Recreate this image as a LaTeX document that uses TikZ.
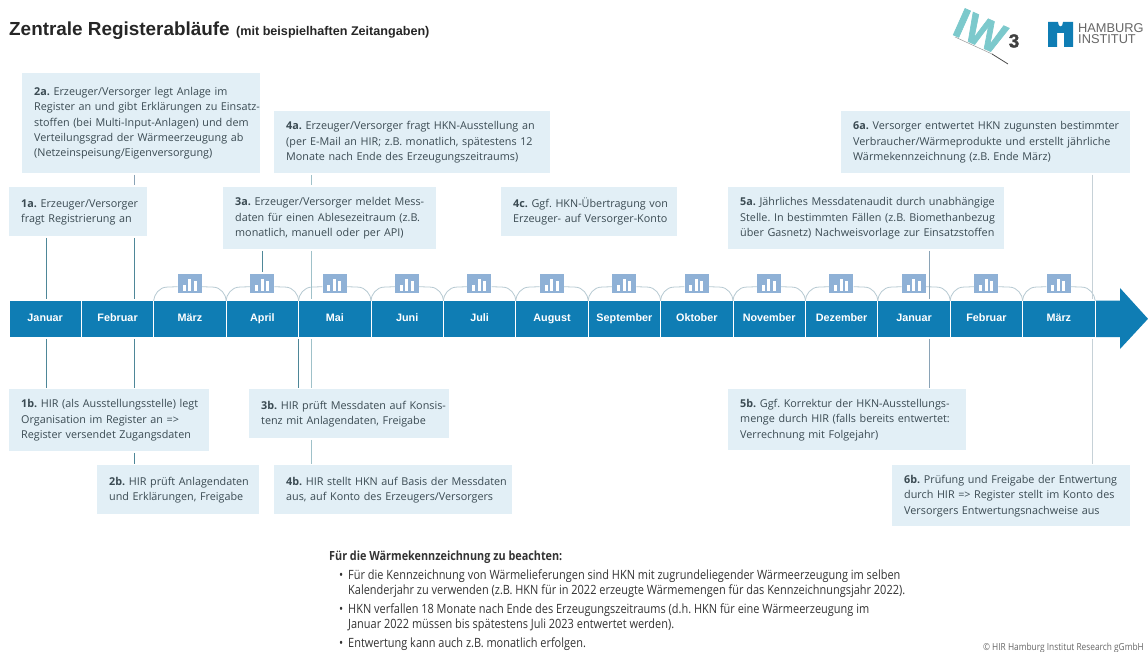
\documentclass[tikz,border=0pt]{standalone}
\usepackage{fontspec}
\setmainfont{Open Sans}
\newfontfamily\headfont{Liberation Sans}
\newfontfamily\logofont[FakeBold=1.6]{Liberation Sans}
\newfontfamily\notefont[FakeStretch=0.86]{Open Sans}
\AtBeginDocument{\frenchspacing}
\newcommand\boxlines[1]{\makebox[0pt][l]{\begin{tabular}{@{}l@{}}#1\end{tabular}}}
\definecolor{boxbg}{HTML}{E2EFF6}
\definecolor{cellblue}{HTML}{0F7DB4}
\definecolor{iconblue}{HTML}{8FB1D6}
\definecolor{bodytxt}{HTML}{3A4A52}
\definecolor{darkline}{HTML}{4E8798}
\definecolor{midline}{HTML}{9FC1C9}
\definecolor{slateline}{HTML}{8AA3B6}
\definecolor{paleline}{HTML}{C6D1D7}
\definecolor{arcline}{HTML}{B7CAD2}
\definecolor{iwteal}{HTML}{7CC9CC}
\tikzset{
  regbox/.style={anchor=north west,fill=boxbg,inner xsep=12pt,inner ysep=0pt,align=left,
    text=bodytxt,font=\fontsize{10.8}{15.3}\selectfont},
  cell/.style={anchor=north west,fill=cellblue,text=white,minimum width=71.4pt,minimum height=36.3pt,
    inner sep=0pt,text height=7.5pt,text depth=2.2pt,font=\headfont\bfseries\fontsize{10.8}{12}\selectfont},
  iconbox/.style={fill=iconblue,minimum width=24pt,minimum height=19pt,inner sep=0pt},
  conn/.style={line width=0.9pt,shorten <=1.5pt,shorten >=1.5pt},
  arcconn/.style={arcline,line width=0.8pt},
  notetxt/.style={anchor=base west,inner sep=0pt,text=black!80,font=\notefont\fontsize{12.75}{14}\selectfont},
}
\begin{document}
\begin{tikzpicture}[x=1pt,y=-1pt]
\useasboundingbox (0,0) rectangle (1148,652);
\fill[white] (0,0) rectangle (1148,652);
% title
\node[anchor=base west,inner sep=0pt,text=black!85,font=\headfont\bfseries\fontsize{18.9}{20}\selectfont] (title) at (9,36) {Zentrale Registerabläufe};
\node[anchor=base west,inner sep=0pt,text=black!85,font=\headfont\bfseries\fontsize{12.6}{14}\selectfont] (subtitle) at (236,36) {(mit beispielhaften Zeitangaben)};
% IW3 logo
\node[anchor=center,inner sep=0pt,rotate=-24,text=iwteal,font=\logofont\bfseries\fontsize{42}{44}\selectfont] (iw) at (980,31) {IW};
\node[anchor=center,inner sep=0pt,text=black!75,font=\logofont\bfseries\fontsize{19}{20}\selectfont] (three) at (1014,41) {3};
\draw[black!40,line width=0.5pt] (955,37) -- (992,54);
\draw[black!70,line width=0.8pt] (992,54) -- (1008,64);
% Hamburg Institut logo
\fill[cellblue] (1048,22) -- (1058,22) .. controls (1058,28) and (1063,28) .. (1063,22) -- (1073,22) -- (1073,47) -- (1064,47) -- (1064,33) -- (1057,33) -- (1057,47) -- (1048,47) -- cycle;
\node[anchor=north west,inner sep=0pt,align=left,text=black!60,font=\headfont\fontsize{12.8}{11.5}\selectfont] (hi) at (1078,23) {HAMBURG\\INSTITUT};
% timeline cells
\foreach \i/\m in {0/Januar,1/Februar,2/März,3/April,4/Mai,5/Juni,6/Juli,7/August,8/September,9/Oktober,10/November,11/Dezember,12/Januar,13/Februar,14/März}{
  \node[cell] (m\i) at ({9.3+72.4*\i},300.7) {\m};
}
\fill[cellblue] (1096,300.7) -- (1120,300.7) -- (1120,288) -- (1148,318.8) -- (1120,349) -- (1120,337) -- (1096,337) -- cycle;
% icons
\foreach \i in {2,...,14}{
  \node[iconbox] (ic\i) at ({9.3+72.4*\i+35.7},283.5) {};
  \fill[white] ([xshift=5pt,yshift=2.5pt]ic\i.south west) rectangle +(3,-6);
  \fill[white] ([xshift=10.5pt,yshift=2.5pt]ic\i.south west) rectangle +(3,-12);
  \fill[white] ([xshift=16pt,yshift=2.5pt]ic\i.south west) rectangle +(3,-10);
  \draw[arcconn] ([yshift=-3.2pt]ic\i.east) -- ([xshift=-13pt,yshift=13.6pt]m\i.north east)
     .. controls ([xshift=-5pt,yshift=13.6pt]m\i.north east) and ([xshift=0pt,yshift=6pt]m\i.north east) .. ([xshift=0.5pt]m\i.north east);
  \draw[arcconn] ([yshift=-3.2pt]ic\i.west) -- ([xshift=13pt,yshift=13.6pt]m\i.north west)
     .. controls ([xshift=5pt,yshift=13.6pt]m\i.north west) and ([xshift=0pt,yshift=6pt]m\i.north west) .. ([xshift=-0.5pt]m\i.north west);
}
% boxes
\node[regbox,text width=214pt,minimum height=100pt] (b2a) at (22,73) {\boxlines{\textbf{2a.} Erzeuger/Versorger legt Anlage im\\Register an und gibt Erklärungen zu Einsatz-\\stoffen (bei Multi-Input-Anlagen) und dem\\Verteilungsgrad der Wärmeerzeugung ab\\(Netzeinspeisung/Eigenversorgung)}};
\node[regbox,text width=114pt,minimum height=49pt] (b1a) at (9,187) {\boxlines{\textbf{1a.} Erzeuger/Versorger\\fragt Registrierung an}};
\node[regbox,text width=252pt,minimum height=62pt] (b4a) at (274,111) {\boxlines{\textbf{4a.} Erzeuger/Versorger fragt HKN-Ausstellung an\\(per E-Mail an HIR; z.B. monatlich, spätestens 12\\Monate nach Ende des Erzeugungszeitraums)}};
\node[regbox,text width=189pt,minimum height=62pt] (b3a) at (223,187) {\boxlines{\textbf{3a.} Erzeuger/Versorger meldet Mess-\\daten für einen Ablesezeitraum (z.B.\\monatlich, manuell oder per API)}};
\node[regbox,text width=152pt,minimum height=49pt] (b4c) at (501,187) {\boxlines{\textbf{4c.} Ggf. HKN-Übertragung von\\Erzeuger- auf Versorger-Konto}};
\node[regbox,text width=252pt,minimum height=62pt] (b5a) at (728,187) {\boxlines{\textbf{5a.} Jährliches Messdatenaudit durch unabhängige\\Stelle. In bestimmten Fällen (z.B. Biomethanbezug\\über Gasnetz) Nachweisvorlage zur Einsatzstoffen}};
\node[regbox,text width=265pt,minimum height=62pt] (b6a) at (841,111) {\boxlines{\textbf{6a.} Versorger entwertet HKN zugunsten bestimmter\\Verbraucher/Wärmeprodukte und erstellt jährliche\\Wärmekennzeichnung (z.B. Ende März)}};
\node[regbox,text width=176pt,minimum height=62pt] (b1b) at (9,389) {\boxlines{\textbf{1b.} HIR (als Ausstellungsstelle) legt\\Organisation im Register an =>\\Register versendet Zugangsdaten}};
\node[regbox,text width=176pt,minimum height=49pt] (b3b) at (249,389) {\boxlines{\textbf{3b.} HIR prüft Messdaten auf Konsis-\\tenz mit Anlagendaten, Freigabe}};
\node[regbox,text width=138pt,minimum height=49pt] (b2b) at (97,465) {\boxlines{\textbf{2b.} HIR prüft Anlagendaten\\und Erklärungen, Freigabe}};
\node[regbox,text width=214pt,minimum height=49pt] (b4b) at (274,465) {\boxlines{\textbf{4b.} HIR stellt HKN auf Basis der Messdaten\\aus, auf Konto des Erzeugers/Versorgers}};
\node[regbox,text width=214pt,minimum height=61pt] (b5b) at (728,389) {\boxlines{\textbf{5b.} Ggf. Korrektur der HKN-Ausstellungs-\\menge durch HIR (falls bereits entwertet:\\Verrechnung mit Folgejahr)}};
\node[regbox,text width=214pt,minimum height=61pt] (b6b) at (892,465) {\boxlines{\textbf{6b.} Prüfung und Freigabe der Entwertung\\durch HIR => Register stellt im Konto des\\Versorgers Entwertungsnachweise aus}};
% connector columns
\coordinate (xa) at (46.3,0);
\coordinate (xb) at (134.5,0);
\coordinate (xc) at (262,0);
\coordinate (xd) at (311,0);
\coordinate (xe) at (298.5,0);
\coordinate (xf) at (929,0);
\coordinate (xg) at (1092.5,0);
\draw[conn,darkline] (b1a.south -| xa) -- (m0.north -| xa);
\draw[conn,darkline] (m0.south -| xa) -- (b1b.north -| xa);
\draw[conn,slateline] (b2a.south -| xb) -- (b1a.north -| xb);
\draw[conn,darkline] (b1a.south -| xb) -- (m1.north -| xb);
\draw[conn,darkline] (m1.south -| xb) -- (b1b.north -| xb);
\draw[conn,darkline] (b1b.south -| xb) -- (b2b.north -| xb);
\draw[conn,darkline] (b3a.south -| xc) -- (ic3.north -| xc);
\draw[conn,midline] (b4a.south -| xd) -- (b3a.north -| xd);
\draw[conn,midline] (b3a.south -| xd) -- (m4.north -| xd);
\draw[conn,midline] (m4.south -| xd) -- (b3b.north -| xd);
\draw[conn,midline] (b3b.south -| xd) -- (b4b.north -| xd);
\draw[conn,darkline] (m4.south -| xe) -- (b3b.north -| xe);
\draw[conn,slateline] (b5a.south -| xf) -- (m12.north -| xf);
\draw[conn,slateline] (m12.south -| xf) -- (b5b.north -| xf);
\draw[conn,paleline] (b6a.south -| xg) -- (m14.north -| xg);
\draw[conn,paleline] (m14.south -| xg) -- (b6b.north -| xg);
% notes
\node[notetxt,font=\notefont\bfseries\fontsize{12.6}{14}\selectfont] (nh) at (329,560) {Für die Wärmekennzeichnung zu beachten:};
\node[notetxt] (n1) at (339,579.5) {•};
\node[notetxt] (n1a) at (348,579.5) {Für die Kennzeichnung von Wärmelieferungen sind HKN mit zugrundeliegender Wärmeerzeugung im selben};
\node[notetxt] (n1b) at (348,594.5) {Kalenderjahr zu verwenden (z.B. HKN für in 2022 erzeugte Wärmemengen für das Kennzeichnungsjahr 2022).};
\node[notetxt] (n2) at (339,613.5) {•};
\node[notetxt] (n2a) at (348,613.5) {HKN verfallen 18 Monate nach Ende des Erzeugungszeitraums (d.h. HKN für eine Wärmeerzeugung im};
\node[notetxt] (n2b) at (348,628.5) {Januar 2022 müssen bis spätestens Juli 2023 entwertet werden).};
\node[notetxt] (n3) at (339,647.5) {•};
\node[notetxt] (n3a) at (348,647.5) {Entwertung kann auch z.B. monatlich erfolgen.};
\node[anchor=base east,inner sep=0pt,text=black!60,font=\notefont\fontsize{9.7}{11}\selectfont] (copy) at (1144,650.5) {© HIR Hamburg Institut Research gGmbH};
\end{tikzpicture}
\end{document}
